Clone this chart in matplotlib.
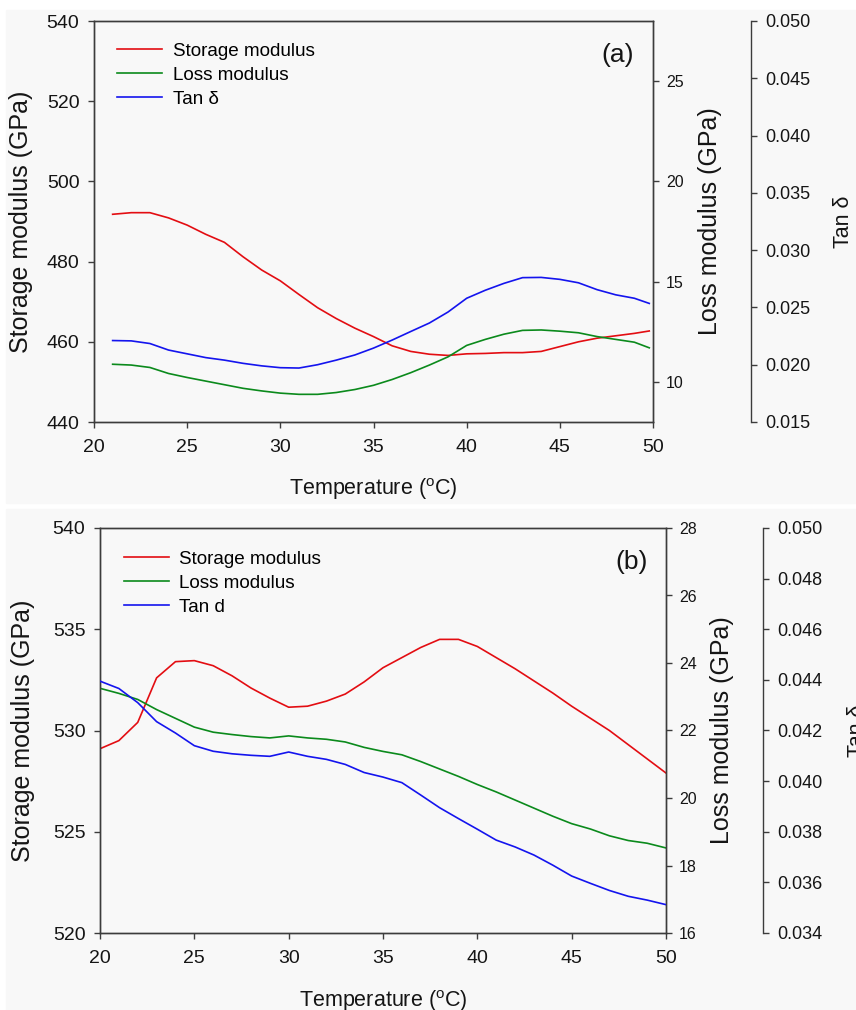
"""
Curvas DMA (storage / loss / tan delta) vs temperatura, dos paneles (a) y (b).
Cada panel usa tres ejes Y: storage (izq), loss (der) y tan delta (der, desplazado).
"""

import matplotlib.pyplot as plt
from matplotlib.patches import Rectangle

plt.rcParams["font.family"] = ["Liberation Sans", "DejaVu Sans"]
plt.rcParams["mathtext.fontset"] = "custom"
plt.rcParams["mathtext.rm"] = "Liberation Sans"

# ---- panel (a) ----
TEMP_A = [21, 22, 23, 24, 25, 26, 27, 28, 29, 30, 31, 32, 33, 34, 35,
          36, 37, 38, 39, 40, 41, 42, 43, 44, 45, 46, 47, 48, 49, 49.8]
STORAGE_A = [491.8, 492.2, 492.2, 490.9, 489.1, 486.8, 484.8, 481.2, 477.9, 475.2,
             471.8, 468.5, 465.8, 463.4, 461.3, 459.0, 457.6, 456.9, 456.6, 457.0,
             457.1, 457.3, 457.3, 457.6, 458.8, 460.0, 460.9, 461.5, 462.1, 462.7]
LOSS_A = [10.88, 10.84, 10.72, 10.42, 10.22, 10.04, 9.86, 9.68, 9.55, 9.44,
          9.38, 9.38, 9.47, 9.62, 9.83, 10.12, 10.46, 10.84, 11.25, 11.82,
          12.12, 12.38, 12.57, 12.59, 12.53, 12.45, 12.26, 12.12, 11.98, 11.70]
TAN_A = [0.02211, 0.02208, 0.02185, 0.02128, 0.02095, 0.02062, 0.02040, 0.02012,
         0.01990, 0.01974, 0.01971, 0.02000, 0.02040, 0.02085, 0.02145, 0.02215,
         0.02290, 0.02364, 0.02460, 0.02580, 0.02650, 0.02710, 0.02760, 0.02762,
         0.02745, 0.02715, 0.02655, 0.02610, 0.02580, 0.02535]

# ---- panel (b) ----
TEMP_B = list(range(20, 51))
STORAGE_B = [529.1, 529.5, 530.4, 532.6, 533.4, 533.45, 533.2, 532.7, 532.1, 531.6,
             531.15, 531.2, 531.45, 531.8, 532.4, 533.1, 533.6, 534.1, 534.5, 534.5,
             534.15, 533.6, 533.05, 532.45, 531.85, 531.2, 530.6, 530.0, 529.3, 528.6,
             527.9]
LOSS_B = [23.25, 23.10, 22.92, 22.62, 22.36, 22.10, 21.95, 21.88, 21.82, 21.78,
          21.84, 21.78, 21.74, 21.66, 21.50, 21.38, 21.28, 21.08, 20.86, 20.64,
          20.40, 20.18, 19.94, 19.70, 19.46, 19.24, 19.08, 18.88, 18.74, 18.66,
          18.52]
TAN_B = [0.04395, 0.04366, 0.04310, 0.04235, 0.04190, 0.04140, 0.04118, 0.04108,
         0.04102, 0.04098, 0.04115, 0.04098, 0.04086, 0.04066, 0.04034, 0.04016,
         0.03994, 0.03945, 0.03895, 0.03852, 0.03810, 0.03767, 0.03740, 0.03708,
         0.03668, 0.03625, 0.03596, 0.03568, 0.03545, 0.03530, 0.03512]

X_TICKS = [20, 25, 30, 35, 40, 45, 50]
STORAGE_TICKS_A = [440, 460, 480, 500, 520, 540]
LOSS_TICKS_A = [10, 15, 20, 25]
TAN_TICKS_A = [0.015, 0.020, 0.025, 0.030, 0.035, 0.040, 0.045, 0.050]
STORAGE_TICKS_B = [520, 525, 530, 535, 540]
LOSS_TICKS_B = [16, 18, 20, 22, 24, 26, 28]
TAN_TICKS_B = [0.034, 0.036, 0.038, 0.040, 0.042, 0.044, 0.046, 0.048, 0.050]

LABELS_A = ["Storage modulus", "Loss modulus", "Tan δ"]
LABELS_B = ["Storage modulus", "Loss modulus", "Tan d"]

RED, GREEN, BLUE = "#e30d12", "#0b8a1c", "#1414ee"
BG = "#f8f8f8"
SPINE = "#3c3c3c"
TXT = "#151515"


def style_axis(ax):
    for s in ax.spines.values():
        s.set_color(SPINE)
        s.set_linewidth(1.0)
    ax.tick_params(colors=SPINE, labelcolor=TXT, direction="out", length=4.5, width=1.0)


def draw_panel(rect, temp, storage, loss, tan, s_lim, s_ticks, l_lim, l_ticks,
               t_lim, t_ticks, labels, letter, tan_pos, coords):
    ax = fig.add_axes(rect)
    ax.set_facecolor(BG)
    ax2 = ax.twinx()
    ax3 = ax.twinx()
    ax3.spines["right"].set_position(("axes", tan_pos))
    for a in (ax2, ax3):
        a.patch.set_visible(False)

    l1, = ax.plot(temp, storage, color=RED, lw=1.2)
    l2, = ax2.plot(temp, loss, color=GREEN, lw=1.2)
    l3, = ax3.plot(temp, tan, color=BLUE, lw=1.2)

    ax.set_xlim(20, 50)
    ax.set_xticks(X_TICKS)
    ax.set_ylim(*s_lim)
    ax.set_yticks(s_ticks)
    ax2.set_ylim(*l_lim)
    ax2.set_yticks(l_ticks)
    ax3.set_ylim(*t_lim)
    ax3.set_yticks(t_ticks)
    ax3.set_yticklabels([f"{t:.3f}" for t in t_ticks])

    for a in (ax, ax2, ax3):
        style_axis(a)
    ax.tick_params(axis="y", labelsize=14, pad=6)
    ax.tick_params(axis="x", labelsize=14, pad=8)
    ax2.tick_params(axis="y", labelsize=11.5, pad=5)
    ax3.tick_params(axis="y", labelsize=13, pad=6)
    ax3.spines["top"].set_visible(False)
    ax3.spines["bottom"].set_visible(False)
    ax3.spines["left"].set_visible(False)

    ax.set_ylabel("Storage modulus (GPa)", fontsize=18, color=TXT)
    ax2.set_ylabel("Loss modulus (GPa)", fontsize=18, color=TXT)
    ax3.set_ylabel("Tan δ", fontsize=15.5, color=TXT)
    ax.set_xlabel(r"Temperature ($^{\mathrm{o}}$C)", fontsize=15.5, color=TXT)
    ax.yaxis.set_label_coords(coords[0], 0.5)
    ax2.yaxis.set_label_coords(coords[1], 0.5)
    ax3.yaxis.set_label_coords(coords[2], 0.5)
    ax.xaxis.set_label_coords(0.5, coords[3])

    ax3.legend([l1, l2, l3], labels, loc="upper left", bbox_to_anchor=coords[4],
               frameon=False, fontsize=13.6, handlelength=2.4, handletextpad=0.55,
               labelspacing=0.36, borderpad=0, borderaxespad=0)
    ax.text(coords[5][0], coords[5][1], letter, transform=ax.transAxes,
            fontsize=19, color=TXT, ha="center", va="center")


fig = plt.figure(figsize=(8.56, 10.10), dpi=100)
# fondos gris claro de cada panel
fig.patches.append(Rectangle((6 / 856, 1 - 503 / 1010), 850 / 856, 493 / 1010,
                             transform=fig.transFigure, color=BG, zorder=-5))
fig.patches.append(Rectangle((6 / 856, 0), 850 / 856, 501 / 1010,
                             transform=fig.transFigure, color=BG, zorder=-5))

draw_panel([94 / 856, 1 - 422 / 1010, 559 / 856, 401 / 1010],
           TEMP_A, STORAGE_A, LOSS_A, TAN_A,
           (440, 540), STORAGE_TICKS_A, (8, 28), LOSS_TICKS_A,
           (0.015, 0.050), TAN_TICKS_A, LABELS_A, "(a)", 1.1753,
           (-0.109, 1.0805, 1.322, -0.135, (0.041, 0.946), (0.936, 0.915)))

draw_panel([100 / 856, 1 - 933 / 1010, 566 / 856, 405 / 1010],
           TEMP_B, STORAGE_B, LOSS_B, TAN_B,
           (520, 540), STORAGE_TICKS_B, (16, 28), LOSS_TICKS_B,
           (0.034, 0.050), TAN_TICKS_B, LABELS_B, "(b)", 1.1714,
           (-0.115, 1.078, 1.320, -0.136, (0.042, 0.944), (0.94, 0.916)))

fig.savefig("out.png", dpi=100, facecolor="white")
